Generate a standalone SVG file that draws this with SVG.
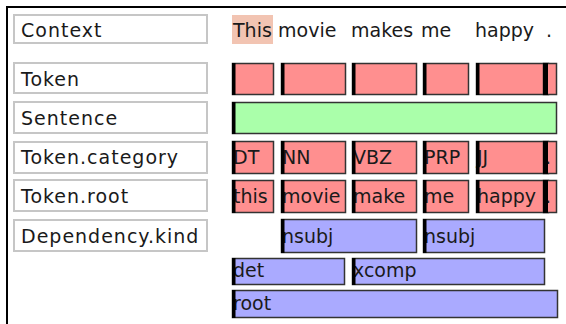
<svg xmlns="http://www.w3.org/2000/svg" width="566" height="324" viewBox="0 0 566 324">
<style>
.t{font-family:"DejaVu Sans",sans-serif;font-size:19px;fill:#1a1a1a}
.lt{letter-spacing:1px}
.lbl{fill:#fff;stroke:#c6c6c6;stroke-width:2}
.tok{fill:#ff8f8f;stroke:#333;stroke-width:1.5}
.sen{fill:#aaffaa;stroke:#333;stroke-width:1.5}
.dep{fill:#aaaaff;stroke:#333;stroke-width:1.5}
.bar{fill:#000}
</style>
<rect width="566" height="324" fill="#fff"/>
<path d="M6 7H566M7 6V324" stroke="#000" stroke-width="2" fill="none"/>

<g id="labels">
<g id="lbl-context"><rect class="lbl" x="14" y="15" width="193" height="28"/><text class="t lt" x="21" y="37">Context</text></g>
<g id="lbl-token"><rect class="lbl" x="14" y="63" width="193" height="30"/><text class="t lt" x="21" y="86">Token</text></g>
<g id="lbl-sentence"><rect class="lbl" x="14" y="102" width="193" height="31"/><text class="t lt" x="21" y="125">Sentence</text></g>
<g id="lbl-category"><rect class="lbl" x="14" y="142" width="193" height="31"/><text class="t lt" x="21" y="164">Token.category</text></g>
<g id="lbl-root"><rect class="lbl" x="14" y="180" width="193" height="31"/><text class="t lt" x="21" y="203">Token.root</text></g>
<g id="lbl-dep"><rect class="lbl" x="14" y="220" width="193" height="31"/><text class="t lt" x="21" y="243">Dependency.kind</text></g>
</g>

<g id="context">
<rect x="232" y="15" width="41" height="29" fill="#f2c4b2"/>
<text class="t" x="233" y="37">This</text>
<text class="t" x="278" y="37">movie</text>
<text class="t" x="351" y="37">makes</text>
<text class="t" x="421" y="37">me</text>
<text class="t" x="475" y="37">happy</text>
<text class="t" x="546" y="37">.</text>
</g>

<g id="token-row">
<g id="tok1"><rect class="tok" x="232.5" y="63.5" width="41" height="31"/><rect class="bar" x="232" y="63" width="3.5" height="32"/></g>
<g id="tok2"><rect class="tok" x="281.5" y="63.5" width="64" height="31"/><rect class="bar" x="281" y="63" width="3.5" height="32"/></g>
<g id="tok3"><rect class="tok" x="352.5" y="63.5" width="64" height="31"/><rect class="bar" x="352" y="63" width="3.5" height="32"/></g>
<g id="tok4"><rect class="tok" x="423.5" y="63.5" width="45" height="31"/><rect class="bar" x="423" y="63" width="3.5" height="32"/></g>
<g id="tok5"><rect class="tok" x="476.5" y="63.5" width="72" height="31"/><rect class="bar" x="476" y="63" width="3.5" height="32"/></g>
<g id="tok6"><rect class="tok" x="543.5" y="63.5" width="13" height="31"/><rect class="bar" x="543" y="63" width="5" height="32"/></g>
</g>

<g id="sentence-row">
<rect class="sen" x="232.5" y="102.5" width="324" height="31"/><rect class="bar" x="232" y="102" width="3.5" height="32"/>
</g>

<g id="category-row">
<g id="cat1"><rect class="tok" x="232.5" y="141.5" width="41" height="32"/><text class="t" x="233" y="164">DT</text><rect class="bar" x="232" y="141" width="3.5" height="33"/></g>
<g id="cat2"><rect class="tok" x="281.5" y="141.5" width="64" height="32"/><text class="t" x="282" y="164">NN</text><rect class="bar" x="281" y="141" width="3.5" height="33"/></g>
<g id="cat3"><rect class="tok" x="352.5" y="141.5" width="64" height="32"/><text class="t" x="353" y="164">VBZ</text><rect class="bar" x="352" y="141" width="3.5" height="33"/></g>
<g id="cat4"><rect class="tok" x="423.5" y="141.5" width="45" height="32"/><text class="t" x="424" y="164">PRP</text><rect class="bar" x="423" y="141" width="3.5" height="33"/></g>
<g id="cat5"><rect class="tok" x="476.5" y="141.5" width="72" height="32"/><text class="t" x="477" y="164">JJ</text><rect class="bar" x="476" y="141" width="3.5" height="33"/></g>
<g id="cat6"><rect class="tok" x="543.5" y="141.5" width="13" height="32"/><text class="t" x="545" y="164">.</text><rect class="bar" x="543" y="141" width="5" height="33"/></g>
</g>

<g id="root-row">
<g id="root1"><rect class="tok" x="232.5" y="180.5" width="41" height="32"/><text class="t" x="233" y="203">this</text><rect class="bar" x="232" y="180" width="3.5" height="33"/></g>
<g id="root2"><rect class="tok" x="281.5" y="180.5" width="64" height="32"/><text class="t" x="282" y="203">movie</text><rect class="bar" x="281" y="180" width="3.5" height="33"/></g>
<g id="root3"><rect class="tok" x="352.5" y="180.5" width="64" height="32"/><text class="t" x="353" y="203">make</text><rect class="bar" x="352" y="180" width="3.5" height="33"/></g>
<g id="root4"><rect class="tok" x="423.5" y="180.5" width="45" height="32"/><text class="t" x="424" y="203">me</text><rect class="bar" x="423" y="180" width="3.5" height="33"/></g>
<g id="root5"><rect class="tok" x="476.5" y="180.5" width="72" height="32"/><text class="t" x="477" y="203">happy</text><rect class="bar" x="476" y="180" width="3.5" height="33"/></g>
<g id="root6"><rect class="tok" x="543.5" y="180.5" width="13" height="32"/><text class="t" x="545" y="203">.</text><rect class="bar" x="543" y="180" width="5" height="33"/></g>
</g>

<g id="dependency-rows">
<g id="dep-nsubj1"><rect class="dep" x="281.5" y="219.5" width="135" height="33"/><text class="t" x="282" y="243">nsubj</text><rect class="bar" x="281" y="219" width="3.5" height="34"/></g>
<g id="dep-nsubj2"><rect class="dep" x="423.5" y="219.5" width="121" height="33"/><text class="t" x="424" y="243">nsubj</text><rect class="bar" x="423" y="219" width="3.5" height="34"/></g>
<g id="dep-det"><rect class="dep" x="232.5" y="258.5" width="112" height="26"/><text class="t" x="233" y="277">det</text><rect class="bar" x="232" y="258" width="3.5" height="27"/></g>
<g id="dep-xcomp"><rect class="dep" x="352.5" y="258.5" width="192" height="26"/><text class="t" x="353" y="277">xcomp</text><rect class="bar" x="352" y="258" width="3.5" height="27"/></g>
<g id="dep-root"><rect class="dep" x="232.5" y="290.5" width="325" height="27"/><text class="t" x="233" y="310">root</text><rect class="bar" x="232" y="290" width="3.5" height="28"/></g>
</g>
</svg>
